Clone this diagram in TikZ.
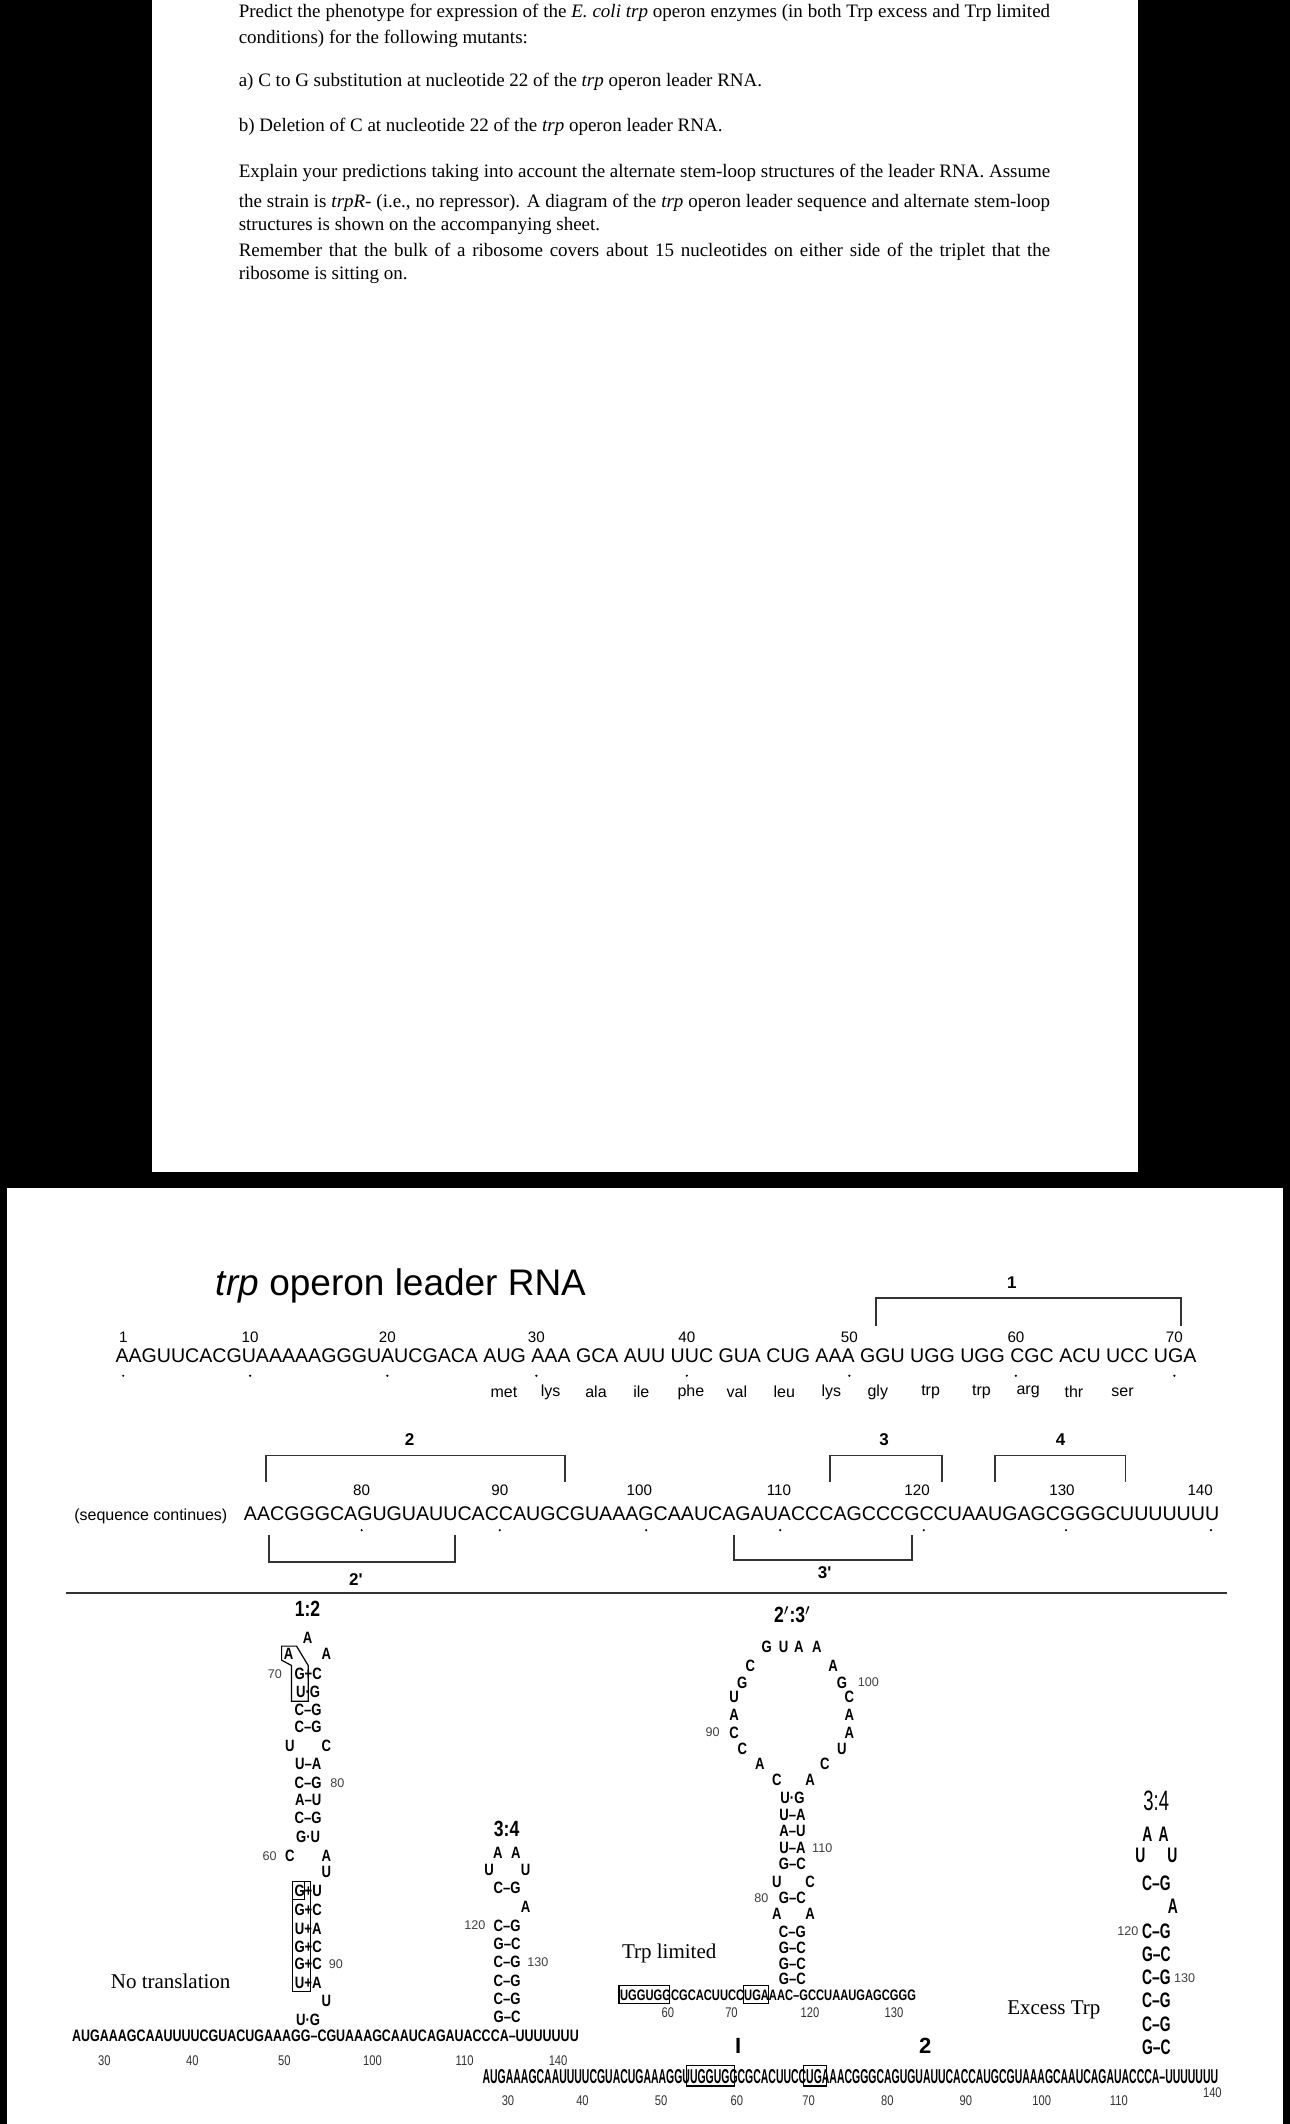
\documentclass[tikz,border=0pt]{standalone}
\usepackage{fontspec}
\usepackage{graphicx}
\setmainfont{Liberation Serif}
\newfontfamily\arial{Liberation Sans}
\newfontfamily\condf[FakeStretch=0.8]{Liberation Sans}
\newfontfamily\condt[FakeStretch=0.66]{Liberation Sans}
\tikzset{
  st/.style={font=\condf\bfseries\fontsize{8.2}{8}\selectfont, inner sep=0pt},
  stt/.style={font=\condt\bfseries\fontsize{10.5}{11}\selectfont, inner sep=0pt},
  lbl/.style={font=\condf\bfseries\fontsize{11}{12}\selectfont, inner sep=0pt},
  lblt/.style={font=\condt\fontsize{14}{15}\selectfont, inner sep=0pt},
  snum/.style={font=\arial\fontsize{6.3}{7}\selectfont, inner sep=0pt, text=black!75},
  qnum/.style={font=\arial\fontsize{7.6}{8}\selectfont, inner sep=0pt},
  bnum/.style={font=\condf\fontsize{7}{8}\selectfont, inner sep=0pt, text=black!80},
  aa/.style={font=\arial\fontsize{8}{9}\selectfont, inner sep=0pt},
  brk/.style={line width=0.9pt, black!80},
  blab/.style={font=\arial\bfseries\fontsize{8.5}{9}\selectfont, inner sep=0pt},
  qtxt/.style={font=\fontsize{9.5}{10}\selectfont, inner sep=0pt, anchor=base west},
  btxt/.style={font=\fontsize{10.5}{12}\selectfont, inner sep=0pt},
  bx/.style={draw, line width=0.6pt}
}
\newcommand\qdot[2]{\fill (#1,#2) circle (0.9);}
\begin{document}
\begin{tikzpicture}[x=0.6775pt,y=-0.6775pt]
\useasboundingbox (0,0) rectangle (952,1568);
\fill[black] (0,0) rectangle (952,1568);
\fill[white] (112,0) rectangle (840,865);
\fill[white] (5,877) rectangle (947,1568);

% question text
\def\W{405.8pt}
\node[qtxt] (q1) at (176,13) {\makebox[\W][s]{Predict the phenotype for expression of the \textit{E. coli trp} operon enzymes (in both Trp excess and Trp limited}};
\node[qtxt] (q2) at (176,32) {conditions) for the following mutants:};
\node[qtxt] (q3) at (176,64) {a) C to G substitution at nucleotide 22 of the \textit{trp} operon leader RNA.};
\node[qtxt] (q4) at (176,97) {b) Deletion of C at nucleotide 22 of the \textit{trp} operon leader RNA.};
\node[qtxt] (q5) at (176,131) {\makebox[\W][s]{Explain your predictions taking into account the alternate stem-loop structures of the leader RNA. Assume}};
\node[qtxt] (q6) at (176,153) {\makebox[\W][s]{the strain is \textit{trpR}- (i.e., no repressor). A diagram of the \textit{trp} operon leader sequence and alternate stem-loop}};
\node[qtxt] (q7) at (176,170) {structures is shown on the accompanying sheet.};
\node[qtxt] (q8) at (176,189) {\makebox[\W][s]{Remember that the bulk of a ribosome covers about 15 nucleotides on either side of the triplet that the}};
\node[qtxt] (q9) at (176,206) {ribosome is sitting on.};

% title
\node[inner sep=0pt, font=\arial\fontsize{18.5}{20}\selectfont] (title) at (296,949.5) {\textit{trp} operon leader RNA};

% sequence line 1
\node[anchor=base west, inner sep=0pt] (s1) at (85,1006) {\resizebox{540.6pt}{6.9pt}{\arial AAGUUCACGUAAAAAGGGUAUCGACA AUG AAA GCA AUU UUC GUA CUG AAA GGU UGG UGG CGC ACU UCC UGA}};
\foreach \x/\t in {91/1,184.6/10,286/20,396/30,507/40,627/50,750/60,867/70}{
  \node[qnum] at (\x,987) {\t};
  \qdot{\x}{1015.6}
}
\foreach \x/\t in {372/met,406.5/lys,440/ala,473.4/ile,510/phe,544/val,579/leu,613.7/lys,648/gly,687/trp,724.6/trp,759/arg,792.8/thr,828.7/ser}{
  \node[aa] at (\x,1027.8) {\t};
}
\draw[brk] (646.8,979) -- (646.8,958) -- (872,958) -- (872,979);
\node[blab] (b1) at (747,947) {1};

% sequence line 2
\node[anchor=base west, inner sep=0pt] (sc) at (54.6,1122.5) {\resizebox{76.5pt}{!}{\arial (sequence continues)}};
\node[anchor=base west, inner sep=0pt] (s2) at (179.8,1122.5) {\resizebox{487.8pt}{6.9pt}{\arial AACGGGCAGUGUAUUCACCAUGCGUAAAGCAAUCAGAUACCCAGCCCGCCUAAUGAGCGGGCUUUUUUU}};
\foreach \x/\t in {267/80,369/90,472/100,575/110,677/120,784/130,886/140}{
  \node[qnum] at (\x,1100) {\t};
}
\foreach \x in {267,369,477,576,682,787,894}{\qdot{\x}{1129.6}}
\draw[brk] (196.3,1094) -- (196.3,1074.5) -- (416.8,1074.5) -- (416.8,1094);
\node[blab] (b2) at (302.4,1062.7) {2};
\draw[brk] (612.5,1094) -- (612.5,1074.5) -- (695.3,1074.5) -- (695.3,1094);
\node[blab] (b3) at (652.7,1062.7) {3};
\draw[brk] (734.3,1094) -- (734.3,1074.5) -- (830.8,1074.5) -- (830.8,1094);
\node[blab] (b4) at (783,1062.7) {4};
\draw[brk] (198.3,1132.8) -- (198.3,1153) -- (336,1153) -- (336,1132.8);
\node[blab] (b2p) at (262.8,1166) {2'};
\draw[brk] (541.7,1132.8) -- (541.7,1151.8) -- (673,1151.8) -- (673,1132.8);
\node[blab] (b3p) at (608.7,1161) {3'};
\draw[line width=1pt, black!80] (48.7,1175.8) -- (905.8,1175.8);

% ===== 1:2 structure
\node[lbl] (l12) at (227,1188) {1:2};
\node[st] at (227,1209) {A};
\node[st] at (213,1221) {A};
\node[st] at (241,1221) {A};
\foreach \y/\t in {1236/G+C,1249/U·G,1262/C–G,1275/C–G,1302/U–A,1316/C–G,1329/A–U,1342/C–G,1356/G·U,1396/G+U,1410/G+C,1424/U+A,1437/G+C,1450/G+C,1464/U+A,1491/U·G}{
  \node[st] at (227.5,\y) {\t};
}
\node[st] at (214,1289) {U}; \node[st] at (241,1289) {C};
\node[st] at (214,1370) {C}; \node[st] at (241,1370) {A};
\node[st] at (241,1382) {U};
\node[st] at (241,1477) {U};
\node[snum] at (203,1236) {70};
\node[snum] at (249,1316) {80};
\node[snum] at (199,1370) {60};
\node[snum] at (248,1450) {90};
\draw[line width=0.6pt] (207.9,1215.2) -- (218.9,1215.2) -- (227.5,1229.5) -- (227.5,1255.9) -- (215.2,1255.9) -- (215.2,1229.5) -- (207.9,1225.6) -- cycle;
\draw[line width=0.6pt] (216,1389) rectangle (229.5,1470);
\draw[line width=0.5pt] (216,1389) rectangle (224.5,1402);
\node[btxt] (nt) at (126,1463) {No translation};
\node[anchor=base west, inner sep=0pt] (sl) at (53,1507) {\resizebox{253.4pt}{5.8pt}{\condf\bfseries AUGAAAGCAAUUUUCGUACUGAAAGG–CGUAAAGCAAUCAGAUACCCA–UUUUUUU}};
\foreach \x/\t in {77/30,142/40,210/50,275/100,343/110,412/140}{\node[bnum] at (\x,1521) {\t};}

% ===== middle 3:4
\node[lbl] (l34a) at (374,1350.5) {3:4};
\node[st] at (367.5,1367.7) {A}; \node[st] at (380.8,1367.7) {A};
\node[st] at (361,1380.6) {U}; \node[st] at (388,1380.6) {U};
\node[st] at (374.4,1394) {C–G};
\node[st] at (388,1408) {A};
\foreach \y/\t in {1421.5/C–G,1434.7/G–C,1448.5/C–G,1462/C–G,1475.5/C–G,1488.7/G–C}{
  \node[st] at (374.4,\y) {\t};
}
\node[snum] at (350.5,1421.5) {120};
\node[snum] at (397,1448.5) {130};

% ===== 2':3'
\node[lbl] (l23) at (585,1192) {2$'$:3$'$};
\node[st] at (566,1216) {G}; \node[st] at (578.5,1216) {U}; \node[st] at (589.7,1216) {A}; \node[st] at (603,1216) {A};
\node[st] at (554,1229.5) {C}; \node[st] at (615,1229.5) {A};
\node[st] at (548,1242) {G}; \node[st] at (621.5,1242) {G};
\node[snum] at (641,1242) {100};
\node[st] at (542,1253) {U}; \node[st] at (627,1253) {C};
\node[st] at (542,1266) {A}; \node[st] at (627,1266) {A};
\node[st] at (542,1279) {C}; \node[st] at (627,1279) {A};
\node[snum] at (526,1279) {90};
\node[st] at (548,1291) {C}; \node[st] at (621.5,1291) {U};
\node[st] at (561,1302) {A}; \node[st] at (609,1302) {C};
\node[st] at (573.5,1314) {C}; \node[st] at (598,1314) {A};
\foreach \y/\t in {1327/U·G,1339.5/U–A,1352/A–U,1364/U–A,1376/G–C,1401/G–C,1426/C–G,1438/G–C,1450/G–C,1461/G–C}{
  \node[st] at (585,\y) {\t};
}
\node[snum] at (607,1364) {110};
\node[st] at (573.5,1389) {U}; \node[st] at (598,1389) {C};
\node[snum] at (562,1401) {80};
\node[st] at (573.5,1413) {A}; \node[st] at (598,1413) {A};
\node[btxt] (tl) at (494,1442) {Trp limited};
\node[anchor=base west, inner sep=0pt] (sm) at (457.5,1476.5) {\resizebox{148pt}{5.3pt}{\condf\bfseries UGGUGGCGCACUUCCUGAAAC–GCCUAAUGAGCGGG}};
\draw[bx] (457,1466) rectangle (494.5,1479);
\draw[bx] (549,1466) rectangle (567.5,1479);
\foreach \x/\t in {493/60,540/70,598/120,660/130}{\node[bnum] at (\x,1486) {\t};}

% ===== right 3:4
\node[lblt] (l34b) at (853.6,1329.6) {3:4};
\node[stt] at (847,1354) {A}; \node[stt] at (859,1354) {A};
\node[stt] at (841.8,1370) {U}; \node[stt] at (865.4,1370) {U};
\node[stt] at (853.6,1390) {C–G};
\node[stt] at (865.8,1407) {A};
\foreach \y/\t in {1425.5/C–G,1442.8/G–C,1460/C–G,1477/C–G,1494.5/C–G,1511/G–C}{
  \node[stt] at (853.6,\y) {\t};
}
\node[snum] at (832.6,1425.5) {120};
\node[snum] at (874.6,1460) {130};
\node[btxt] (et) at (778,1484) {Excess Trp};

% bottom sequence
\node[inner sep=0pt, font=\arial\bfseries\fontsize{11}{12}\selectfont] (m1) at (545,1510) {I};
\node[inner sep=0pt, font=\arial\bfseries\fontsize{11}{12}\selectfont] (m2) at (683,1510) {2};
\node[anchor=base west, inner sep=0pt] (sb) at (356,1538) {\resizebox{367.9pt}{7pt}{\condf\bfseries AUGAAAGCAAUUUUCGUACUGAAAGGUUGGUGGCGCACUUCCUGAAACGGGCAGUGUAUUCACCAUGCGUAAAGCAAUCAGAUACCCA–UUUUUUU}};
\draw[bx] (507,1525) rectangle (542,1540);
\draw[bx] (593,1525) rectangle (610,1540);
\foreach \x/\t in {375/30,430/40,488/50,544/60,597/70,655/80,713/90,769/100,826/110}{\node[bnum] at (\x,1551) {\t};}
\node[bnum] (n140) at (895,1545) {140};
\end{tikzpicture}
\end{document}
